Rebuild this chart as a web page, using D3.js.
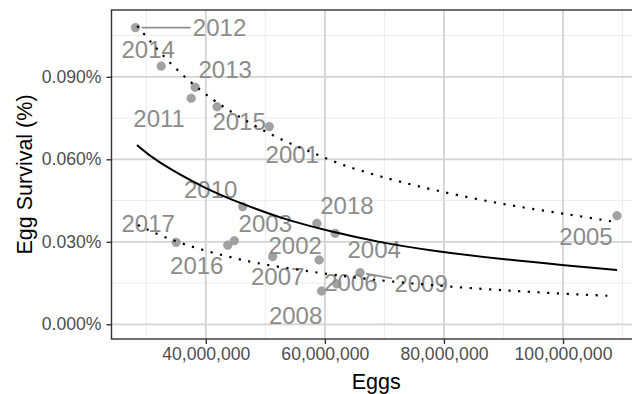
<!DOCTYPE html>
<html lang="en">
<head>
    <meta charset="UTF-8">
    <title>egg survival</title>
    <script src="https://d3js.org/d3.v7.min.js"></script>
    <style>
        body { margin: 0; background: white; }
        text { font-family: "Liberation Sans", Arial, Helvetica, sans-serif; }
    </style>
</head>
<body>
<script>

// yearly observations (eggs, egg survival in %)
const years    = [2001, 2002, 2003, 2004, 2005, 2006, 2007, 2008, 2009,
                  2010, 2011, 2012, 2013, 2014, 2015, 2016, 2017, 2018];
const eggs     = [50.66, 59.04, 44.79, 61.73, 109.07, 62.01, 51.23, 59.45, 65.92,
                  46.20, 37.54, 28.20, 38.21, 32.51, 41.90, 43.69, 35.02, 58.66].map(d => d * 1e6);
const survival = [0.0719, 0.0234, 0.0304, 0.0331, 0.0395, 0.0147, 0.0246, 0.0121, 0.0188,
                  0.0428, 0.0822, 0.1079, 0.0862, 0.0939, 0.0791, 0.0288, 0.0298, 0.0367];

// fitted curve (solid)
const fitEggs = [28.44, 31.33, 40.34, 45.92, 52.62, 61.01, 69.39, 77.77, 89.51, 100.69, 109.07].map(d => d * 1e6);
const fitSurv = [0.0652, 0.0597, 0.0488, 0.0440, 0.0385, 0.0337, 0.0297, 0.0268, 0.0237, 0.0214, 0.0197];

// upper dotted curve
const upEggs = [28.48, 32.62, 37.25, 41.17, 45.08, 49.27, 53.75, 58.21, 62.40, 67.16, 71.90,
                78.32, 86.15, 93.98, 101.80, 109.07].map(d => d * 1e6);
const upSurv = [0.1085, 0.0979, 0.0882, 0.0816, 0.0761, 0.0709, 0.0660, 0.0622, 0.0583, 0.0551, 0.0522,
                0.0488, 0.0452, 0.0422, 0.0397, 0.0371];

// lower dotted curve
const loEggs = [28.60, 31.50, 34.64, 37.65, 40.72, 43.79, 46.92, 50.11, 58.04, 62.97, 67.71,
                77.22, 87.28, 96.77, 103.20, 108.28].map(d => d * 1e6);
const loSurv = [0.0361, 0.0331, 0.0304, 0.0282, 0.0263, 0.0246, 0.0230, 0.0216, 0.0190, 0.0176, 0.0163,
                0.0143, 0.0127, 0.0115, 0.0108, 0.0103];

// axis ticks
const xTicks = [40e6, 60e6, 80e6, 100e6];
const xMinor = [30e6, 50e6, 70e6, 90e6, 110e6];
const yTicks = [0, 0.03, 0.06, 0.09];
const yMinor = [0.015, 0.045, 0.075, 0.105];

// label placement (pixel offset of label centre from its point, repel-style)
const labelOffset = {
    2001: [23, 28], 2002: [-24, -15], 2003: [31, -17], 2004: [39, 16], 2005: [-31, 21],
    2006: [14, -2], 2007: [5, 20], 2008: [-26, 24], 2009: [61, 11], 2010: [-32, -17],
    2011: [-32, 20], 2012: [84, 0], 2013: [30, -18], 2014: [-13, -17], 2015: [22, 15],
    2016: [-31, 20], 2017: [-28, -19], 2018: [30, -18]
};
const withSegment = [2012, 2009];

var W = 632, H = 394;
var panel = {left: 111.5, right: 641, top: 10, bottom: 339};

var svg = d3.select("body").append("svg")
    .attr("width", W)
    .attr("height", H);

svg.append("rect").attr("width", W).attr("height", H).attr("fill", "white");

var x = d3.scaleLinear().domain([24.16e6, 113.1e6]).range([panel.left, panel.right]);
var y = d3.scaleLinear().domain([-0.00535, 0.1143]).range([panel.bottom, panel.top]);

var plot = svg.append("g");

// minor grid
plot.selectAll(".xminor").data(xMinor).enter().append("line")
    .attr("x1", d => x(d)).attr("x2", d => x(d))
    .attr("y1", panel.top).attr("y2", panel.bottom)
    .attr("stroke", "#ececec").attr("stroke-width", 1);
plot.selectAll(".yminor").data(yMinor).enter().append("line")
    .attr("x1", panel.left).attr("x2", panel.right)
    .attr("y1", d => y(d)).attr("y2", d => y(d))
    .attr("stroke", "#ececec").attr("stroke-width", 1);

// major grid
plot.selectAll(".xmajor").data(xTicks).enter().append("line")
    .attr("x1", d => x(d)).attr("x2", d => x(d))
    .attr("y1", panel.top).attr("y2", panel.bottom)
    .attr("stroke", "#d3d3d3").attr("stroke-width", 1.8);
plot.selectAll(".ymajor").data(yTicks).enter().append("line")
    .attr("x1", panel.left).attr("x2", panel.right)
    .attr("y1", d => y(d)).attr("y2", d => y(d))
    .attr("stroke", "#d3d3d3").attr("stroke-width", 1.8);

// points
var pts = years.map((yr, i) => ({year: yr, eggs: eggs[i], surv: survival[i]}));

plot.selectAll(".pt").data(pts).enter().append("circle")
    .attr("cx", d => x(d.eggs))
    .attr("cy", d => y(d.surv))
    .attr("r", 4.3)
    .attr("fill", "#a2a2a2")
    .attr("stroke", "#959595")
    .attr("stroke-width", 0.6);

// label segments
pts.filter(d => withSegment.includes(d.year)).forEach(function (d) {
    var px = x(d.eggs), py = y(d.surv);
    var off = labelOffset[d.year];
    var cx = px + off[0], cy = py + off[1];
    var hw = 29, hh = 11;
    // point on the label box edge closest along the line
    var t = Math.min(hw / Math.abs(off[0] || 1e-9), hh / Math.abs(off[1] || 1e-9));
    var ex = cx - off[0] * t, ey = cy - off[1] * t;
    var len = Math.hypot(off[0], off[1]);
    var sx = px + off[0] / len * 6, sy = py + off[1] / len * 6;
    plot.append("line")
        .attr("x1", sx).attr("y1", sy).attr("x2", ex).attr("y2", ey)
        .attr("stroke", "#8e8e8e").attr("stroke-width", 1.6);
});

// labels
plot.selectAll(".lab").data(pts).enter().append("text")
    .attr("x", d => x(d.eggs) + labelOffset[d.year][0])
    .attr("y", d => y(d.surv) + labelOffset[d.year][1])
    .attr("dy", "0.36em")
    .attr("text-anchor", "middle")
    .attr("font-size", "24px")
    .attr("fill", "#8c8c8c")
    .text(d => d.year);

// fitted lines
var line = d3.line().x(d => x(d[0])).y(d => y(d[1])).curve(d3.curveBasis);

plot.append("path")
    .attr("d", line(fitEggs.map((e, i) => [e, fitSurv[i]])))
    .attr("fill", "none").attr("stroke", "black").attr("stroke-width", 2);

plot.append("path")
    .attr("d", line(upEggs.map((e, i) => [e, upSurv[i]])))
    .attr("fill", "none").attr("stroke", "black").attr("stroke-width", 2.2)
    .attr("stroke-dasharray", "2.2 7.5");

plot.append("path")
    .attr("d", line(loEggs.map((e, i) => [e, loSurv[i]])))
    .attr("fill", "none").attr("stroke", "black").attr("stroke-width", 2.2)
    .attr("stroke-dasharray", "2.2 7.5");

// panel border
svg.append("rect")
    .attr("x", panel.left).attr("y", panel.top)
    .attr("width", panel.right - panel.left).attr("height", panel.bottom - panel.top)
    .attr("fill", "none").attr("stroke", "#333333").attr("stroke-width", 1.4);

// axes
var xAxis = d3.axisBottom(x).tickValues(xTicks).tickFormat(d3.format(",")).tickSize(5).tickPadding(4);
var yAxis = d3.axisLeft(y).tickValues(yTicks).tickFormat(d => d3.format(".3f")(d) + "%").tickSize(5).tickPadding(5);

var gx = svg.append("g").attr("transform", "translate(0," + panel.bottom + ")").call(xAxis);
var gy = svg.append("g").attr("transform", "translate(" + panel.left + ",0)").call(yAxis);

[gx, gy].forEach(function (g) {
    g.select(".domain").remove();
    g.selectAll(".tick line").attr("stroke", "#333333").attr("stroke-width", 1.4);
    g.selectAll(".tick text")
        .attr("fill", "#4d4d4d")
        .style("font-size", "17.6px")
        .style("font-family", "'Liberation Sans', Arial, sans-serif");
});

// axis titles
svg.append("text")
    .attr("x", (panel.left + panel.right) / 2)
    .attr("y", 388.7)
    .attr("text-anchor", "middle")
    .attr("font-size", "21.5px")
    .attr("fill", "black")
    .text("Eggs");

svg.append("text")
    .attr("transform", "translate(31.5," + ((panel.top + panel.bottom) / 2) + ") rotate(-90)")
    .attr("text-anchor", "middle")
    .attr("font-size", "21.5px")
    .attr("fill", "black")
    .text("Egg Survival (%)");

</script>
</body>
</html>
